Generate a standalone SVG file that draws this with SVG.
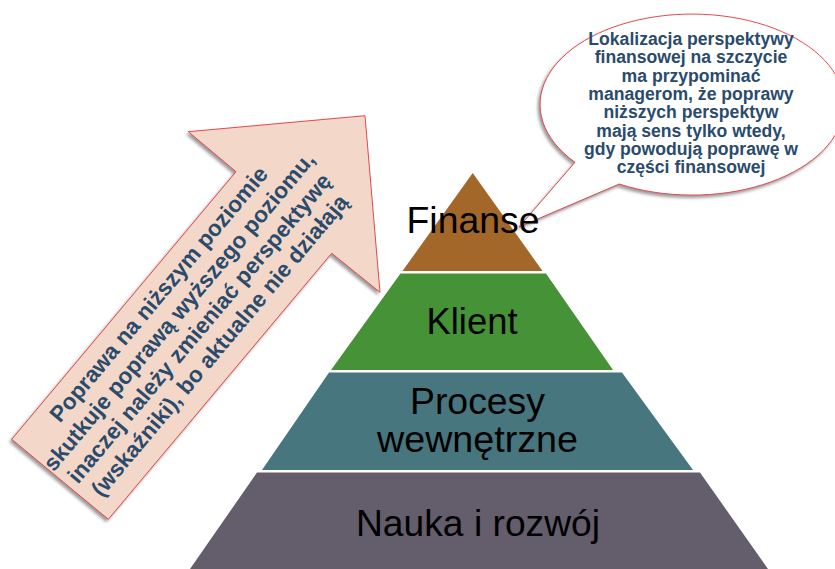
<svg xmlns="http://www.w3.org/2000/svg" width="835" height="569" viewBox="0 0 835 569">
  <style>
    .lbl { font-family: "Liberation Sans", Arial, sans-serif; font-size: 36px; fill: #000; text-anchor: middle; }
    .note { font-family: "Liberation Sans", Arial, sans-serif; font-weight: bold; fill: #2A4B6C; text-anchor: middle; }
    .band { stroke: none; }
    .callout { stroke: #E2383E; stroke-width: 0.9; }
  </style>
  <defs>
    <filter id="shadow" x="-10%" y="-10%" width="120%" height="120%">
      <feDropShadow dx="-2" dy="2.5" stdDeviation="1.5" flood-color="#7a7a7a" flood-opacity="0.75"/>
    </filter>
  </defs>
  <rect x="0" y="0" width="835" height="569" fill="#FFFFFF"/>

  <g id="arrow">
    <polygon class="callout" fill="#F3D8CA" filter="url(#shadow)" points="11.7,439.3 236,171.7 188.3,131.7 365,115.7 380,292.3 331.7,253.3 108.3,519.3"/>
    <g transform="translate(196,325.5) rotate(-50)">
      <text class="note" font-size="22.6" x="0" y="-41">Poprawa na niższym poziomie</text>
      <text class="note" font-size="22.6" x="0" y="-14.5">skutkuje poprawą wyższego poziomu,</text>
      <text class="note" font-size="22.6" x="0" y="12">inaczej należy zmieniać perspektywę</text>
      <text class="note" font-size="22.6" x="0" y="38.5">(wskaźniki), bo aktualne nie działają</text>
    </g>
  </g>

  <g id="bubble">
    <path class="callout" fill="#FFFFFF" filter="url(#shadow)" d="M 575 162.3 L 519 227 L 619.2 184 A 152 90.5 0 1 0 575 162.3 Z"/>
    <g font-size="17.6">
      <text class="note" x="691" y="45">Lokalizacja perspektywy</text>
      <text class="note" x="691" y="63.3">finansowej na szczycie</text>
      <text class="note" x="691" y="81.6">ma przypominać</text>
      <text class="note" x="691" y="99.9">managerom, że poprawy</text>
      <text class="note" x="691" y="118.2">niższych perspektyw</text>
      <text class="note" x="691" y="136.5">mają sens tylko wtedy,</text>
      <text class="note" x="691" y="154.8">gdy powodują poprawę w</text>
      <text class="note" x="691" y="173.1">części finansowej</text>
    </g>
  </g>

  <g id="layer-finanse">
    <polygon class="band" fill="#A4672A" points="472.7,173 402.5,271 542.5,271"/>
    <text class="lbl" x="473" y="233" font-size="38" textLength="133" lengthAdjust="spacingAndGlyphs">Finanse</text>
  </g>
  <g id="layer-klient">
    <polygon class="band" fill="#469237" points="400.5,273.5 546,273.5 613,370 331,370"/>
    <text class="lbl" x="472" y="334" textLength="91" lengthAdjust="spacingAndGlyphs">Klient</text>
  </g>
  <g id="layer-procesy">
    <polygon class="band" fill="#47767E" points="329,372.5 622,372.5 693,470 262,470"/>
    <text class="lbl" x="477.5" y="413.5" textLength="135" lengthAdjust="spacingAndGlyphs">Procesy</text>
    <text class="lbl" x="477.5" y="452" textLength="201" lengthAdjust="spacingAndGlyphs">wewnętrzne</text>
  </g>
  <g id="layer-nauka">
    <polygon class="band" fill="#645D6B" points="257,472.5 700,472.5 768,569 190,569"/>
    <text class="lbl" x="478" y="536" textLength="244" lengthAdjust="spacingAndGlyphs">Nauka i rozwój</text>
  </g>
</svg>
